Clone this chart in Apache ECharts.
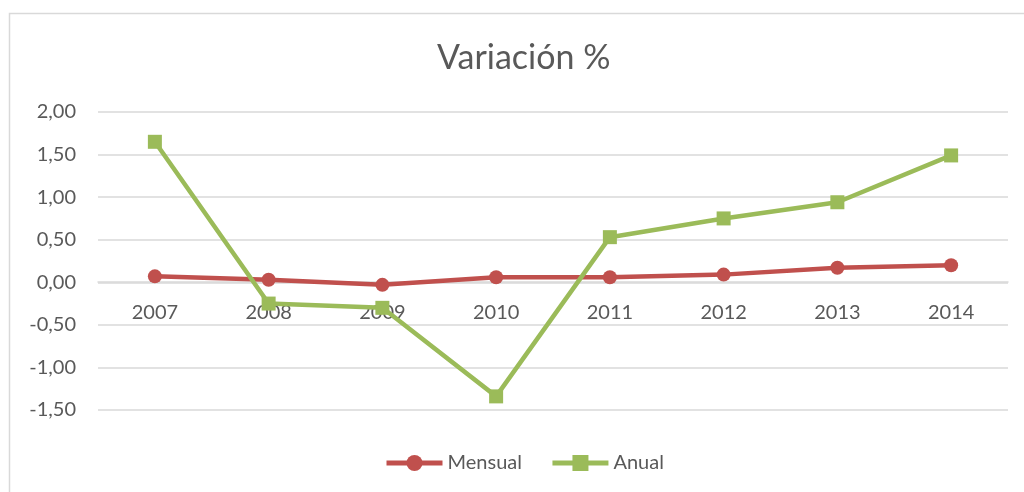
<!DOCTYPE html>
<html>
<head>
<meta charset="utf-8">
<script src="https://cdn.jsdelivr.net/npm/echarts@6/dist/echarts.min.js"></script>
<style>
  html, body { margin: 0; padding: 0; background: #fff; }
  #chart { width: 1024px; height: 492px; }
</style>
</head>
<body>
<div id="chart"></div>
<script>
var years = ['2007', '2008', '2009', '2010', '2011', '2012', '2013', '2014'];
var mensual = [0.07, 0.03, -0.03, 0.06, 0.06, 0.09, 0.17, 0.20];
var anual = [1.65, -0.25, -0.30, -1.34, 0.53, 0.75, 0.94, 1.49];

var txtColor = '#595959';
var fontFam = 'Lato, "Open Sans", sans-serif';

var chart = echarts.init(document.getElementById('chart'));
chart.setOption({
    animation: false,
    title: {
        text: 'Variación %',
        left: 432,
        top: 36,
        textStyle: { color: txtColor, fontSize: 34, fontWeight: 'normal', fontFamily: fontFam }
    },
    graphic: [{
        type: 'rect',
        shape: { x: 9.5, y: 13.5, width: 1040, height: 520 },
        style: { fill: 'none', stroke: '#d9d9d9', lineWidth: 1.5 },
        silent: true
    }],
    legend: {
        bottom: 14,
        left: 379,
        itemWidth: 56,
        itemHeight: 20,
        itemGap: 28,
        lineStyle: { width: 5 },
        textStyle: { color: txtColor, fontSize: 20, fontFamily: fontFam },
        data: ['Mensual', 'Anual']
    },
    grid: { left: 98, right: 16, top: 112, bottom: 82 },
    xAxis: {
        type: 'category',
        data: years,
        boundaryGap: true,
        offset: -128,
        axisLine: { onZero: false, lineStyle: { color: '#d9d9d9', width: 1.5 } },
        axisTick: { show: false },
        axisLabel: { color: txtColor, fontSize: 20, margin: 21, fontFamily: fontFam }
    },
    yAxis: {
        type: 'value',
        min: -1.5,
        max: 2,
        interval: 0.5,
        axisLine: { show: false },
        axisTick: { show: false },
        splitLine: { lineStyle: { color: '#d9d9d9', width: 1.5 } },
        axisLabel: {
            color: txtColor, fontSize: 20, margin: 22, fontFamily: fontFam,
            formatter: function (v) { return v.toFixed(2).replace('.', ','); }
        }
    },
    series: [{
        name: 'Mensual',
        type: 'line',
        data: mensual,
        symbol: 'circle',
        symbolSize: 14,
        color: '#C0504D',
        lineStyle: { width: 4.5, color: '#C0504D' },
        itemStyle: { color: '#C0504D' },
        z: 3
    }, {
        name: 'Anual',
        type: 'line',
        data: anual,
        symbol: 'rect',
        symbolSize: 14,
        color: '#9BBB59',
        lineStyle: { width: 4.5, color: '#9BBB59' },
        itemStyle: { color: '#9BBB59' },
        z: 4
    }]
});
</script>
</body>
</html>
